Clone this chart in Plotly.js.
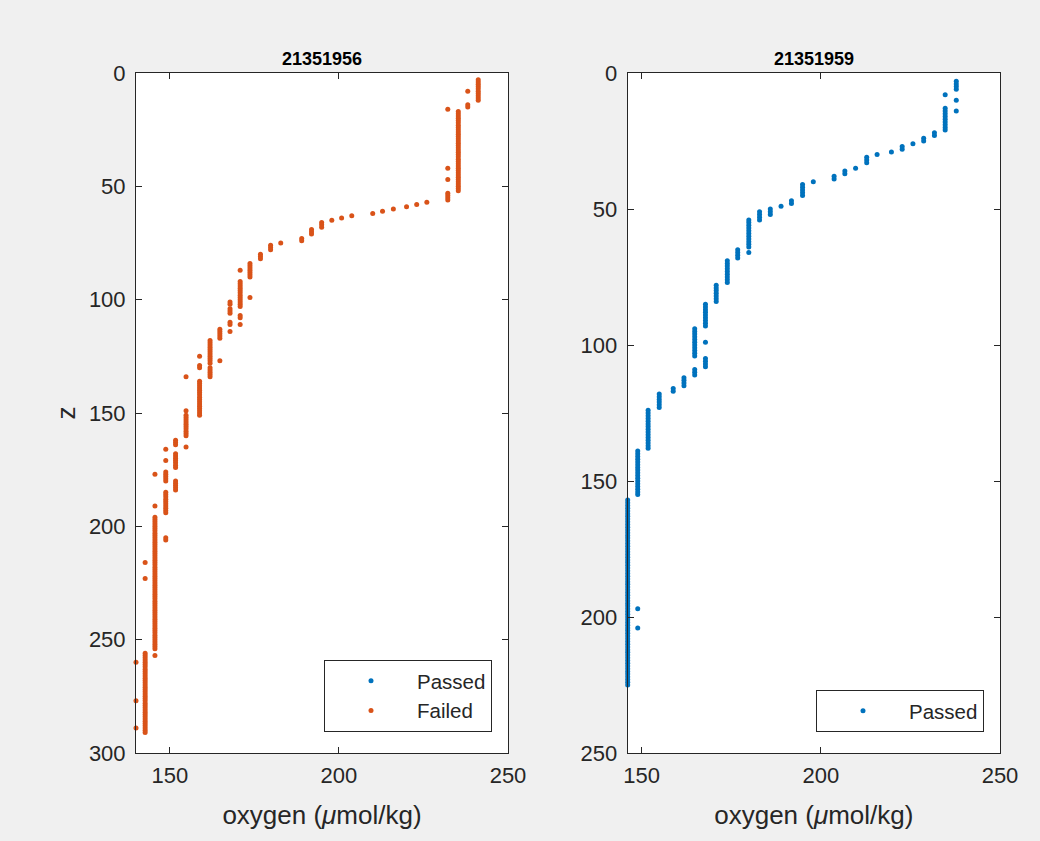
<!DOCTYPE html>
<html>
<head>
<meta charset="utf-8">
<script src="https://cdn.plot.ly/plotly-3.0.1.min.js"></script>
<style>
  html, body { margin: 0; padding: 0; background: #f0f0f0; }
  #chart { width: 1040px; height: 841px; }
</style>
</head>
<body>
<div id="chart"></div>
<script>
// ---- Data ----
const titleLeft = "21351956";
const titleRight = "21351959";

// Panel 1: the "Passed" series has no samples (legend entry only)
const leftPassedOxygen = [null];
const leftPassedDepth = [null];

// oxygen levels (umol/kg) and the depths (z) observed at each level
const failedOxygenLevels = [
  241.2, 238.1, 235.3, 232.2, 226.0, 223.0, 220.0, 216.1, 212.9, 210.0,
  203.8, 200.8, 197.9, 194.9, 191.9, 189.0, 182.8, 179.8, 176.8, 173.7,
  170.8, 167.8, 164.8, 161.9, 158.8, 154.8, 151.7, 148.8, 145.6, 142.7, 140.0
];
const failedDepthsAtLevel = [
  [3,4,5,6,7,8,9,10,11,12],
  [8,14,15],
  [17,18,19,20,21,22,23,24,25,26,27,28,29,30,31,32,33,34,35,36,37,38,39,40,41,42,43,44,45,46,47,48,49,50,51,52],
  [16,42,47,53,54,55,56],
  [57],
  [58],
  [59],
  [60],
  [61],
  [62],
  [63],
  [64],
  [65],
  [66,67,68],
  [69,70,71],
  [73,74],
  [75],
  [76,77,78],
  [80,81,82],
  [84,85,86,87,88,89,90,99],
  [87,92,93,94,95,96,97,98,99,100,101,102,103,107,108,111],
  [101,102,104,105,106,110,111,114],
  [113,114,115,116,117,127],
  [118,119,120,121,122,123,124,125,126,127,128,130,131,132,133,134],
  [125,129,130,136,137,138,139,140,141,142,143,144,145,146,147,148,149,150,151],
  [134,149,151,152,153,154,155,156,157,158,159,160,165],
  [162,163,164,168,169,170,171,172,173,174,180,181,182,183,184],
  [166,171,176,177,178,179,180,185,186,187,188,189,190,191,192,193,194,205,206],
  [177,191,196,197,198,199,200,201,202,203,204,205,206,207,208,209,210,211,212,213,214,215,216,217,218,219,220,221,222,223,224,225,226,227,228,229,230,231,232,233,234,235,236,237,238,239,240,241,242,243,244,245,246,247,248,249,250,251,252,253,254,257],
  [216,223,256,257,258,259,260,261,262,263,264,265,266,267,268,269,270,271,272,273,274,275,276,277,278,279,280,281,282,283,284,285,286,287,288,289,290,291],
  [260,277,289]
];

// Panel 2: float 21351959 (all samples "Passed")
const passedOxygenLevels = [
  237.8, 234.7, 231.7, 228.7, 225.7, 222.7, 219.7, 215.7, 212.8, 209.7,
  206.7, 203.7, 197.9, 194.9, 191.8, 188.9, 185.9, 182.9, 179.9, 176.8,
  173.9, 170.8, 167.8, 164.8, 161.8, 158.8, 154.9, 151.8, 148.9, 146.1
];
const passedDepthsAtLevel = [
  [3,4,5,6,10,14],
  [8,13,14,15,16,17,18,19,20,21],
  [22,23],
  [24,25],
  [26],
  [27,28],
  [29],
  [30],
  [31,32,33],
  [35],
  [36,37],
  [38,39],
  [40],
  [41,42,43,44,45],
  [47,48],
  [49],
  [50,51,52],
  [51,52,53,54],
  [54,55,56,57,58,59,60,61,62,63,64,66],
  [65,66,67,68],
  [69,70,71,72,73,74,75,76,77],
  [78,79,80,81,82,83,84],
  [85,86,87,88,89,90,91,92,93,99,105,106,107,108],
  [94,95,96,97,98,99,100,101,102,103,104,109,110,111],
  [112,113,114,115],
  [116,117],
  [118,119,120,121,122,123],
  [124,125,126,127,128,129,130,131,132,133,134,135,136,137,138],
  [139,140,141,142,143,144,145,146,147,148,149,150,151,152,153,154,155,197,204],
  [157,158,159,160,161,162,163,164,165,166,167,168,169,170,171,172,173,174,175,176,177,178,179,180,181,182,183,184,185,186,187,188,189,190,191,192,193,194,195,196,197,198,199,200,201,202,203,204,205,206,207,208,209,210,211,212,213,214,215,216,217,218,219,220,221,222,223,224,225]
];

const xTickValues = [150, 200, 250];
const leftDepthTicks = [0, 50, 100, 150, 200, 250, 300];
const rightDepthTicks = [0, 50, 100, 150, 200, 250];

// ---- Build point lists from the level/depth tables ----
function flatten(levels, depthLists) {
  const xs = [], ys = [];
  levels.forEach((lv, i) => {
    depthLists[i].forEach(d => { xs.push(lv); ys.push(d); });
  });
  return { x: xs, y: ys };
}
const failedPts = flatten(failedOxygenLevels, failedDepthsAtLevel);
const passedPts = flatten(passedOxygenLevels, passedDepthsAtLevel);

const BLUE = '#0072BD';
const ORANGE = '#D95319';
const AX = '#262626';
const FONT = 'Liberation Sans, Arial, Helvetica, sans-serif';

const markerBase = { size: 5, symbol: 'circle', line: { width: 0 } };

const traces = [
  { type: 'scatter', mode: 'markers', name: 'Passed', x: leftPassedOxygen, y: leftPassedDepth,
    xaxis: 'x', yaxis: 'y', legend: 'legend',
    marker: Object.assign({}, markerBase, { color: BLUE }), cliponaxis: false, hoverinfo: 'x+y' },
  { type: 'scatter', mode: 'markers', name: 'Failed', x: failedPts.x, y: failedPts.y,
    xaxis: 'x', yaxis: 'y', legend: 'legend',
    marker: Object.assign({}, markerBase, { color: ORANGE }), cliponaxis: false, hoverinfo: 'x+y' },
  { type: 'scatter', mode: 'markers', name: 'Passed', x: passedPts.x, y: passedPts.y,
    xaxis: 'x2', yaxis: 'y2', legend: 'legend2',
    marker: Object.assign({}, markerBase, { color: BLUE }), cliponaxis: false, hoverinfo: 'x+y' }
];

const W = 1040, H = 841;
const yDom = [(H - 753) / H, (H - 73) / H];

function axisStyle(extra) {
  return Object.assign({
    showline: true, mirror: 'ticks', linecolor: AX, linewidth: 1,
    ticks: 'inside', ticklen: 6, tickwidth: 1, tickcolor: AX,
    showgrid: false, zeroline: false,
    tickfont: { family: FONT, size: 22, color: AX }
  }, extra);
}

const xTitle = { text: 'oxygen (<i>μ</i>mol/kg)', font: { family: FONT, size: 26, color: AX }, standoff: 18 };

const legendBase = {
  xanchor: 'right', y: (H - 732) / H, yanchor: 'bottom',
  bgcolor: '#ffffff', bordercolor: AX, borderwidth: 1,
  font: { family: FONT, size: 20.5, color: AX }, itemwidth: 82
};

const layout = {
  width: W, height: H,
  paper_bgcolor: '#f0f0f0', plot_bgcolor: '#ffffff',
  margin: { l: 0, r: 0, t: 0, b: 0 },
  font: { family: FONT, color: AX },
  showlegend: true,
  xaxis: axisStyle({ domain: [136 / W, 508 / W], range: [140, 250], tickvals: xTickValues, anchor: 'y',
    ticklabelstandoff: 3, title: xTitle }),
  yaxis: axisStyle({ domain: yDom, range: [300, 0], tickvals: leftDepthTicks, anchor: 'x',
    ticklabelstandoff: 5,
    title: { text: 'z', font: { family: FONT, size: 26, color: AX }, standoff: 5 } }),
  xaxis2: axisStyle({ domain: [627.7 / W, 1000 / W], range: [146.1, 250], tickvals: xTickValues, anchor: 'y2',
    ticklabelstandoff: 3, title: xTitle }),
  yaxis2: axisStyle({ domain: yDom, range: [250, 0], tickvals: rightDepthTicks, anchor: 'x2',
    ticklabelstandoff: 5 }),
  legend: Object.assign({ x: 492 / W }, legendBase),
  legend2: Object.assign({ x: 984 / W }, legendBase),
  annotations: [
    { text: '<b>' + titleLeft + '</b>', xref: 'paper', yref: 'paper', x: 322 / W, y: yDom[1],
      xanchor: 'center', yanchor: 'bottom', yshift: 2, showarrow: false,
      font: { family: FONT, size: 18, color: '#000000' } },
    { text: '<b>' + titleRight + '</b>', xref: 'paper', yref: 'paper', x: 813.85 / W, y: yDom[1],
      xanchor: 'center', yanchor: 'bottom', yshift: 2, showarrow: false,
      font: { family: FONT, size: 18, color: '#000000' } }
  ]
};

Plotly.newPlot('chart', traces, layout, { staticPlot: true, displayModeBar: false });
</script>
</body>
</html>
